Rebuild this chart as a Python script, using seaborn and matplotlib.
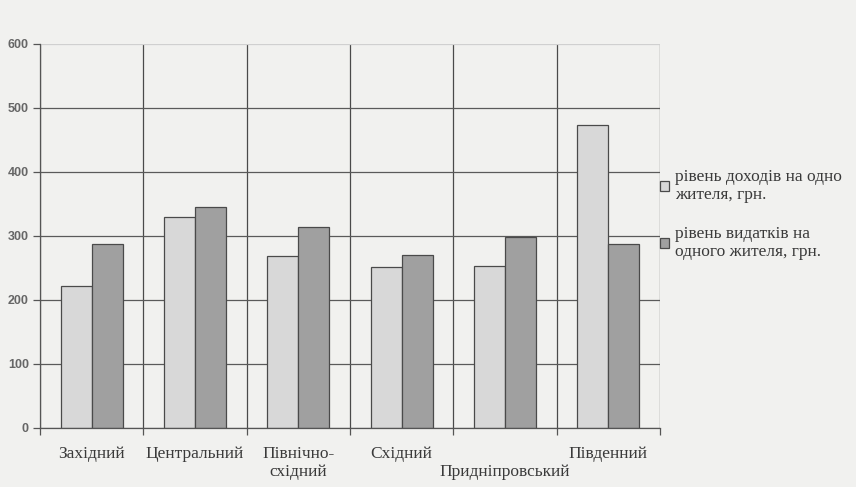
import pandas as pd
import seaborn as sns
import matplotlib.pyplot as plt
from matplotlib.ticker import FixedLocator

# Data
regions = ['Західний', 'Центральний', 'Північно-\nсхідний', 'Східний',
           '\nПридніпровський', 'Південний']
income = [222, 330, 268, 251, 253, 474]
spending = [288, 346, 314, 270, 299, 287]
series_names = ['рівень доходів на одно\nжителя, грн.',
                'рівень видатків на\nодного жителя, грн.']
y_ticks = [0, 100, 200, 300, 400, 500, 600]

df = pd.DataFrame({
    'region': regions * 2,
    'value': income + spending,
    'series': [series_names[0]] * len(regions) + [series_names[1]] * len(regions),
})

sns.set_style('white')
plt.rcParams['font.family'] = ['Liberation Serif', 'DejaVu Serif']

bg = '#f1f1ef'
fig = plt.figure(figsize=(8.56, 4.87), dpi=100, facecolor=bg)
ax = fig.add_axes([40 / 856, 1 - 428 / 487, 620 / 856, 384 / 487])
ax.set_facecolor(bg)

sns.barplot(data=df, x='region', y='value', hue='series', ax=ax,
            palette=['#d8d8d8', '#a0a0a0'], width=0.6, gap=0,
            edgecolor='#4a4a4a', linewidth=0.9, legend=True)

ax.set_xlim(-0.5, len(regions) - 0.5)
ax.set_ylim(0, 600)
ax.set_yticks(y_ticks)
ax.set_yticklabels([str(t) for t in y_ticks], family='Liberation Sans',
                   fontsize=9, fontweight='bold', color='#666666')
ax.set_xlabel('')
ax.set_ylabel('')

# category labels at centres, tick marks and grid at boundaries
ax.xaxis.set_minor_locator(FixedLocator([i - 0.5 for i in range(len(regions) + 1)]))
ax.tick_params(axis='x', which='major', length=0, pad=13, labelsize=12.5,
               labelcolor='#3a3a3a')
ax.tick_params(axis='x', which='minor', length=5, width=0.9, color='#555555',
               direction='out', bottom=True)
ax.tick_params(axis='y', length=5, width=0.9, color='#555555', direction='out',
               left=True, pad=3)
ax.xaxis.grid(True, which='minor', color='#4a4a4a', linewidth=0.9)
ax.yaxis.grid(True, which='major', color='#5a5a5a', linewidth=0.9)
ax.get_ygridlines()[-1].set_color('#d0d0d0')
ax.set_axisbelow(True)
for side in ['top', 'right']:
    ax.spines[side].set_visible(False)
for side in ['left', 'bottom']:
    ax.spines[side].set_color('#555555')
    ax.spines[side].set_linewidth(0.9)

handles, labels = ax.get_legend_handles_labels()
ax.legend(handles, labels, loc='upper left', bbox_to_anchor=(653 / 856, 1 - 162 / 487),
          bbox_transform=fig.transFigure, frameon=False, fontsize=12.5,
          handlelength=0.55, handleheight=0.55, handletextpad=0.3,
          labelspacing=1.3, borderaxespad=0, labelcolor='#3a3a3a')

fig.savefig('out.png', dpi=100, facecolor=bg)
